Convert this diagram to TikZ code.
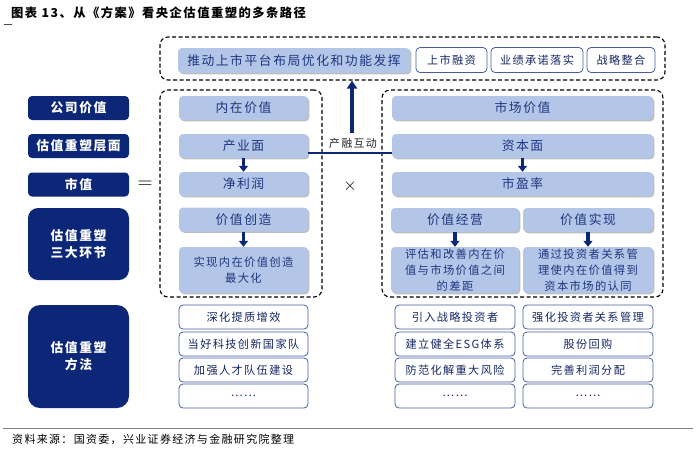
\documentclass[tikz,border=0pt]{standalone}
\usepackage{fontspec}
\setmainfont{Noto Sans CJK SC}[LetterSpace=12]
\usetikzlibrary{shadows,arrows.meta}
\definecolor{navy}{RGB}{12,38,120}
\definecolor{lightblue}{RGB}{180,198,231}
\definecolor{textblue}{RGB}{30,54,128}
\definecolor{borderblue}{RGB}{72,92,162}
\definecolor{textnavy}{RGB}{22,40,100}
\newcommand{\fs}[2]{\fontsize{#1}{#2}\selectfont}
\begin{document}
\begin{tikzpicture}[x=1pt,y=-1pt,
  navybox/.style={fill=navy, text=white, rounded corners=4pt, inner sep=0pt, align=center, font=\fs{12.8}{17}\bfseries},
  lightbox/.style={fill=lightblue, text=textblue, rounded corners=4pt, inner sep=0pt, align=center,
     drop shadow={shadow xshift=1.3pt, shadow yshift=-1.3pt, fill=gray!60, opacity=.85}},
  whitebox/.style={draw=borderblue, line width=0.8pt, fill=white, rounded corners=4pt, inner sep=0pt, text=textnavy, align=center, font=\fs{11.2}{14}},
  dashbox/.style={draw=black, dash pattern=on 4pt off 2.5pt, line width=1.1pt, rounded corners=8pt, inner sep=0pt},
  blockarrow/.style={-{Triangle[width=9pt,length=6pt]}, line width=3.6pt, draw=navy},
  big/.style={font=\fs{12.8}{17}},
  small/.style={font=\fs{11.3}{16.2}},
]
\useasboundingbox (0,0) rectangle (696,448);
% title
\node[anchor=west, inner sep=0pt, font=\fs{12.3}{14}\bfseries] (title) at (11,12.5) {图表 13、从《方案》看央企估值重塑的多条路径};
\draw[gray!60!black, line width=0.8pt] (4,24) -- (12,24);

% top dashed box
\node[dashbox, minimum width=505, minimum height=43] (topbox) at (412.5,58.5) {};
\node[lightbox, big, minimum width=232, minimum height=25] (tpush) at (294,60.5) {推动上市平台布局优化和功能发挥};
\node[whitebox, minimum width=71, minimum height=25] (tfin) at (451.5,60) {上市融资};
\node[whitebox, minimum width=92, minimum height=25] (tperf) at (537,60) {业绩承诺落实};
\node[whitebox, minimum width=68, minimum height=25] (tint) at (621,60) {战略整合};

% navy left column
\node[navybox, minimum width=101, minimum height=24] (n1) at (78.5,108) {公司价值};
\node[navybox, minimum width=101, minimum height=24] (n2) at (78.5,146) {估值重塑层面};
\node[navybox, minimum width=101, minimum height=24] (n3) at (78.5,184.5) {市值};
\node[navybox, rounded corners=10pt, minimum width=101, minimum height=72] (n4) at (78.5,244) {估值重塑\\三大环节};
\node[navybox, rounded corners=12pt, minimum width=101, minimum height=103] (n5) at (78.5,356.5) {估值重塑\\方法};

\node[font=\fs{21}{21}] (eq) at (145,185) {$=$};
\node[font=\fs{16}{16}] (times) at (350,186) {$\times$};

% left dashed box
\node[dashbox, minimum width=162, minimum height=207] (lbox) at (241,193.5) {};
\node[lightbox, big, minimum width=129, minimum height=24] (l1) at (243.5,108) {内在价值};
\node[lightbox, big, minimum width=129, minimum height=24] (l2) at (243.5,146) {产业面};
\node[lightbox, big, minimum width=129, minimum height=24] (l3) at (243.5,184) {净利润};
\node[lightbox, big, minimum width=129, minimum height=24] (l4) at (243.5,219.5) {价值创造};
\node[lightbox, small, minimum width=129, minimum height=46] (l5) at (243.5,270) {实现内在价值创造\\最大化};
\draw[blockarrow] (l2) -- (l3);
\draw[blockarrow] (l4) -- (l5);

% right dashed box
\node[dashbox, minimum width=281, minimum height=207] (rbox) at (522.5,193.5) {};
\node[lightbox, big, minimum width=261, minimum height=24] (r1) at (522.5,108) {市场价值};
\node[lightbox, big, minimum width=261, minimum height=24] (r2) at (522.5,146) {资本面};
\node[lightbox, big, minimum width=261, minimum height=24] (r3) at (522.5,184) {市盈率};
\node[lightbox, big, minimum width=128, minimum height=24] (r4a) at (455,220) {价值经营};
\node[lightbox, big, minimum width=130, minimum height=24] (r4b) at (588,220) {价值实现};
\node[lightbox, small, minimum width=128, minimum height=46] (r5a) at (455,270) {评估和改善内在价\\值与市场价值之间\\的差距};
\node[lightbox, small, minimum width=130, minimum height=46] (r5b) at (588,270) {通过投资者关系管\\理使内在价值得到\\资本市场的认同};
\draw[blockarrow] (r2) -- (r3);
\draw[blockarrow] (r4a) -- (r5a);
\draw[blockarrow] (r4b) -- (r5b);

% synergy
\draw[navy, line width=1.6pt] ([yshift=-7pt]l2.east) -- ([yshift=-7pt]r2.west);
\node[font=\fs{11}{13}, text=black!85] (synlabel) at (353,143) {产融互动};
\coordinate (syn) at (352,133);
\draw[blockarrow, line width=4pt, -{Triangle[width=10pt,length=8pt]}] (syn) -- (syn |- topbox.south);

% methods
\node[whitebox, minimum width=129, minimum height=24] (m1) at (243.5,317) {深化提质增效};
\node[whitebox, minimum width=129, minimum height=24] (m2) at (243.5,344) {当好科技创新国家队};
\node[whitebox, minimum width=129, minimum height=24] (m3) at (243.5,370) {加强人才队伍建设};
\node[whitebox, minimum width=129, minimum height=24] (m4) at (243.5,396) {……};
\node[whitebox, minimum width=120, minimum height=24] (p1) at (455,317) {引入战略投资者};
\node[whitebox, minimum width=120, minimum height=24] (p2) at (455,344) {建立健全ESG体系};
\node[whitebox, minimum width=120, minimum height=24] (p3) at (455,370) {防范化解重大风险};
\node[whitebox, minimum width=120, minimum height=24] (p4) at (455,396) {……};
\node[whitebox, minimum width=130, minimum height=24] (q1) at (588,317) {强化投资者关系管理};
\node[whitebox, minimum width=130, minimum height=24] (q2) at (588,344) {股份回购};
\node[whitebox, minimum width=130, minimum height=24] (q3) at (588,370) {完善利润分配};
\node[whitebox, minimum width=130, minimum height=24] (q4) at (588,396) {……};

% footer
\draw[gray, line width=1pt] (3,428) -- (693,428);
\node[anchor=west, inner sep=0pt, font=\fs{11}{13}] (source) at (12,439) {资料来源：国资委，兴业证券经济与金融研究院整理};
\end{tikzpicture}
\end{document}
